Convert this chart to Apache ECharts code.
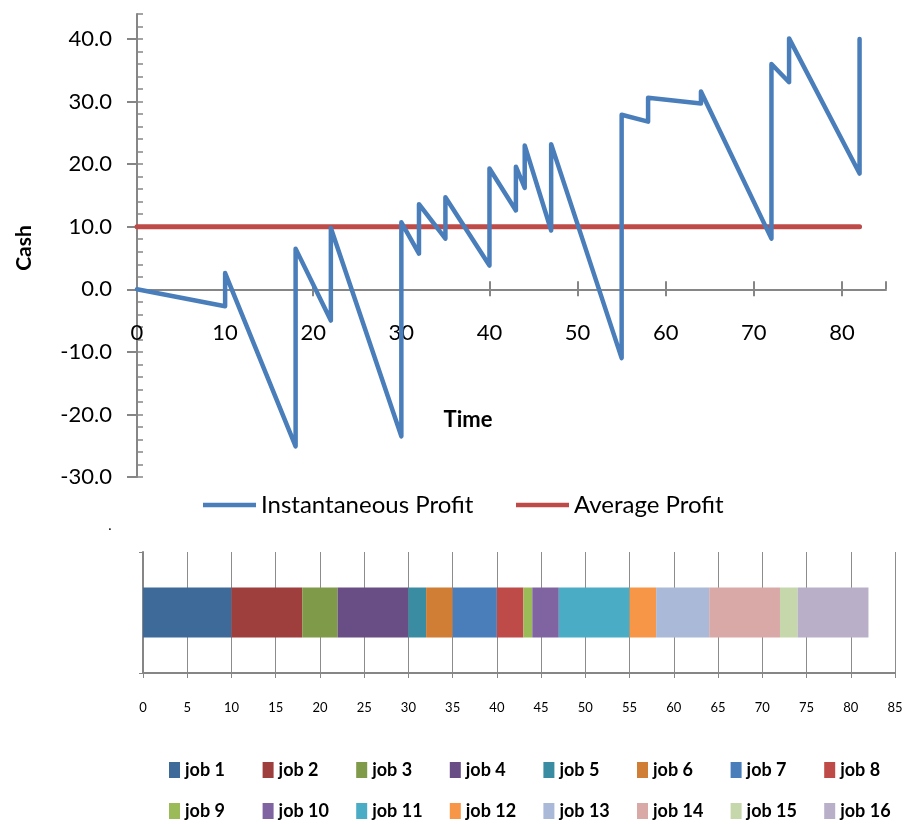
<!DOCTYPE html>
<html><head><meta charset="utf-8">
<script src="https://cdn.jsdelivr.net/npm/echarts@6/dist/echarts.min.js"></script>
<style>html,body{margin:0;padding:0;background:#fff}#c{width:911px;height:824px}</style>
</head><body><div id="c"></div>
<script>
// ---- data ----
const profitTime  = [0, 10, 10, 18, 18, 22, 22, 30, 30, 32, 32, 35, 35, 40, 40, 43, 43, 44, 44, 47, 47, 55, 55, 58, 58, 64, 64, 72, 72, 74, 74, 82, 82];
const profitValue = [0, -2.7, 2.6, -25.1, 6.5, -5.0, 9.8, -23.5, 10.7, 5.7, 13.6, 8.1, 14.7, 3.8, 19.3, 12.6, 19.6, 16.2, 23.0, 9.4, 23.2, -11.0, 27.9, 26.8, 30.6, 29.7, 31.6, 8.1, 36.0, 33.1, 40.1, 18.5, 40.0];
const avgTime  = [0, 10, 18, 22, 30, 32, 35, 40, 43, 44, 47, 55, 58, 64, 72, 74, 82];
const avgValue = [10.0, 10.0, 10.0, 10.0, 10.0, 10.0, 10.0, 10.0, 10.0, 10.0, 10.0, 10.0, 10.0, 10.0, 10.0, 10.0, 10.0];
const jobNames = ['job 1','job 2','job 3','job 4','job 5','job 6','job 7','job 8','job 9','job 10','job 11','job 12','job 13','job 14','job 15','job 16'];
const jobDurations = [10, 8, 4, 8, 2, 3, 5, 3, 1, 3, 8, 3, 6, 8, 2, 8];
const jobColors = ['#3E6A9A','#9E3F3D','#7F9A48','#684E84','#3A8CA3','#D07D35','#4A7EBB','#BE4B48','#9BBB59','#8064A2','#4BACC6','#F79646','#AAB9D7','#D9A9A8','#C6D7AC','#B9AFC9'];
const yTickLabels = [-30, -20, -10, 0, 10, 20, 30, 40];
const yMinorTicks = [-30,-28,-26,-24,-22,-20,-18,-16,-14,-12,-10,-8,-6,-4,-2,0,2,4,6,8,10,12,14,16,18,20,22,24,26,28,30,32,34,36,38,40,42,44];
const seriesNames = ['Instantaneous Profit', 'Average Profit'];

const FONT = 'Lato, "Open Sans", sans-serif';
const AX = '#868686';

const chart = echarts.init(document.getElementById('c'), null, {renderer: 'canvas'});

const profitData = profitTime.map((t, i) => [t, profitValue[i]]);
const avgData = avgTime.map((t, i) => [t, avgValue[i]]);

const barSeries = jobNames.map((n, i) => ({
  name: n, type: 'bar', xAxisIndex: 2, yAxisIndex: 2, stack: 'gantt',
  barWidth: 50, data: [jobDurations[i]],
  itemStyle: {color: jobColors[i]}, emphasis: {disabled: true}
}));

// top grid geometry: x axis sits on y = 0
const G_TOP = 14, G_H = 463, Y_MIN = -30, Y_MAX = 44;
const zeroOffset = -G_H * (0 - Y_MIN) / (Y_MAX - Y_MIN);

const jobLegends = jobNames.map((n, i) => ({
  data: [n], left: 164 + (i % 8) * 93.6, top: i < 8 ? 756 : 797,
  itemWidth: 11, itemHeight: 16, itemGap: 4, icon: 'rect', selectedMode: false,
  textStyle: {fontSize: 18, fontWeight: 'bold', color: '#000', fontFamily: FONT}
}));

const option = {
  animation: false,
  backgroundColor: '#fff',
  grid: [
    {left: 137, right: 25, top: G_TOP, height: G_H},
    {left: 143, right: 16, top: 552, height: 121}
  ],
  xAxis: [
    {gridIndex: 0, type: 'value', min: 0, max: 85, interval: 10, position: 'bottom', offset: zeroOffset,
     axisLine: {show: true, onZero: false, lineStyle: {color: AX, width: 2}},
     axisTick: {show: true, inside: false, length: 7, lineStyle: {color: AX, width: 2}},
     axisLabel: {show: true, margin: 33, fontSize: 22, color: '#000', fontFamily: FONT, showMaxLabel: false},
     splitLine: {show: false}},
    {gridIndex: 0, type: 'value', min: 0, max: 85, interval: 10, position: 'bottom', offset: zeroOffset,
     axisLine: {show: false, onZero: false},
     axisTick: {show: true, inside: true, length: 8, lineStyle: {color: AX, width: 2}},
     axisLabel: {show: false}, splitLine: {show: false}},
    {gridIndex: 1, type: 'value', min: 0, max: 85, interval: 5,
     axisLine: {show: true, onZero: false, lineStyle: {color: AX, width: 2}},
     axisTick: {show: true, length: 5, lineStyle: {color: AX, width: 1}},
     axisLabel: {show: true, margin: 28, fontSize: 13, color: '#000', fontFamily: FONT},
     splitLine: {show: true, lineStyle: {color: '#8C8C8C', width: 1}}}
  ],
  yAxis: [
    {gridIndex: 0, type: 'value', min: Y_MIN, max: Y_MAX, position: 'left',
     axisLine: {show: true, onZero: false, lineStyle: {color: AX, width: 2}},
     axisTick: {show: true, inside: true, length: 6, customValues: yMinorTicks, lineStyle: {color: AX, width: 1.5}},
     axisLabel: {show: true, customValues: yTickLabels, margin: 25, fontSize: 22, color: '#000', fontFamily: FONT,
                 formatter: v => v.toFixed(1)},
     splitLine: {show: false}},
    {gridIndex: 0, type: 'value', min: Y_MIN, max: Y_MAX, position: 'left',
     axisLine: {show: false, onZero: false},
     axisTick: {show: true, inside: false, length: 10, customValues: yTickLabels, lineStyle: {color: AX, width: 2}},
     axisLabel: {show: false}, splitLine: {show: false}},
    {gridIndex: 1, type: 'category', data: [''],
     axisLine: {show: true, lineStyle: {color: AX, width: 2}},
     axisTick: {show: true, length: 4, lineStyle: {color: AX, width: 1}},
     axisLabel: {show: false}, splitLine: {show: false}}
  ],
  legend: [
    {data: [{name: seriesNames[0], icon: 'rect'}], left: 198, top: 488, itemWidth: 53, itemHeight: 4.5,
     textStyle: {fontSize: 24, color: '#000', fontFamily: FONT}, selectedMode: false},
    {data: [{name: seriesNames[1], icon: 'rect'}], left: 511, top: 488, itemWidth: 53, itemHeight: 4.5,
     textStyle: {fontSize: 24, color: '#000', fontFamily: FONT}, selectedMode: false}
  ].concat(jobLegends),
  graphic: [
    {type: 'text', x: 24, y: 248, rotation: Math.PI / 2,
     style: {text: 'Cash', font: 'bold 21px ' + FONT, fill: '#000', align: 'center', verticalAlign: 'middle'}},
    {type: 'text', x: 468, y: 420,
     style: {text: 'Time', font: 'bold 22px ' + FONT, fill: '#000', align: 'center', verticalAlign: 'middle'}},
    {type: 'text', x: 110, y: 525,
     style: {text: '.', font: '14px ' + FONT, fill: '#000', align: 'center', verticalAlign: 'middle'}}
  ],
  series: [
    {name: seriesNames[1], type: 'line', xAxisIndex: 0, yAxisIndex: 0, data: avgData,
     showSymbol: false, symbol: 'none', z: 2, lineStyle: {color: '#BE4B48', width: 5, cap: 'round'},
     itemStyle: {color: '#BE4B48'}},
    {name: seriesNames[0], type: 'line', xAxisIndex: 0, yAxisIndex: 0, data: profitData,
     showSymbol: false, symbol: 'none', z: 3, lineStyle: {color: '#4A7EBB', width: 4.5, cap: 'round', join: 'round'},
     itemStyle: {color: '#4A7EBB'}}
  ].concat(barSeries)
};
chart.setOption(option);
</script>
</body></html>
